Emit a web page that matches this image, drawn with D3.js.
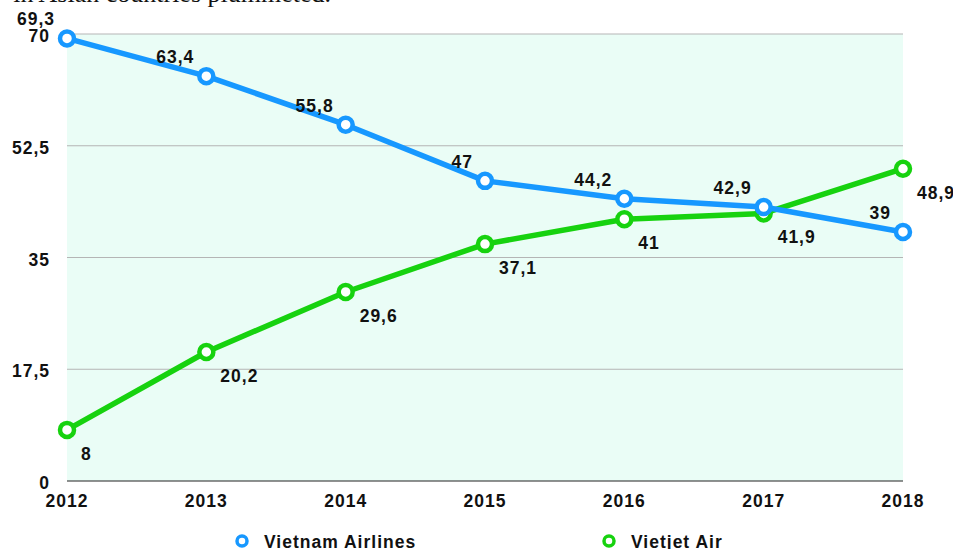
<!DOCTYPE html>
<html>
<head>
<meta charset="utf-8">
<script src="https://cdn.jsdelivr.net/npm/d3@7"></script>
<style>
  html, body { margin: 0; padding: 0; background: #fff; }
  svg { display: block; }
  text { font-family: "Liberation Sans", Arial, sans-serif; font-weight: bold; fill: #111; }
</style>
</head>
<body>
<svg id="chart" width="953" height="549"></svg>
<script>
const years   = [2012, 2013, 2014, 2015, 2016, 2017, 2018];
const vna     = [69.3, 63.4, 55.8, 47, 44.2, 42.9, 39];
const vietjet = [8, 20.2, 29.6, 37.1, 41, 41.9, 48.9];
const yTicks  = [0, 17.5, 35, 52.5, 70];
const names   = ['Vietnam Airlines', 'Vietjet Air'];

const W = 953, H = 549;
const m = { l: 67, r: 50, t: 34, b: 68 };
const BLUE = '#1798ff', GREEN = '#17d20f';
const FS = '17.5px', LS = '1px';
const fmt = v => String(v).replace('.', ',');

const svg = d3.select('#chart');

// cut-off caption from the page above
svg.append('text').attr('x', 331).attr('y', 2).attr('text-anchor', 'end')
  .style('font-family', '"Liberation Serif", "Times New Roman", serif')
  .style('font-weight', 'normal').style('font-size', '26px')
  .text('in Asian countries plummeted.');

const x = d3.scalePoint().domain(years).range([m.l, W - m.r]);
const y = d3.scaleLinear().domain([0, 70]).range([H - m.b, m.t]);

svg.append('rect').attr('x', m.l).attr('y', m.t)
  .attr('width', W - m.r - m.l).attr('height', H - m.b - m.t)
  .attr('fill', '#eafdf6');

// gridlines
svg.append('g').selectAll('line').data(yTicks.filter(d => d > 0)).join('line')
  .attr('x1', m.l).attr('x2', W - m.r)
  .attr('y1', d => y(d)).attr('y2', d => y(d))
  .attr('stroke', '#b5b5b5').attr('stroke-width', 1);

svg.append('line').attr('x1', m.l).attr('x2', W - m.r)
  .attr('y1', y(0)).attr('y2', y(0)).attr('stroke', '#222').attr('stroke-width', 1.2);

const txt = sel => sel.style('font-size', FS).style('letter-spacing', LS);

// y labels
svg.append('g').selectAll('text').data(yTicks).join('text')
  .attr('x', 50).attr('y', d => y(d) + 8).attr('text-anchor', 'end')
  .call(txt).text(fmt);

// x labels
svg.append('g').selectAll('text').data(years).join('text')
  .attr('x', d => x(d)).attr('y', H - m.b + 26).attr('text-anchor', 'middle')
  .call(txt).text(d => d);

const line = d3.line().x((d, i) => x(years[i])).y(d => y(d));

function series(vals, color, above) {
  const g = svg.append('g');
  g.append('path').datum(vals).attr('d', line)
    .attr('fill', 'none').attr('stroke', color).attr('stroke-width', 5.5)
    .attr('stroke-linejoin', 'round');
  g.selectAll('circle').data(vals).join('circle')
    .attr('cx', (d, i) => x(years[i])).attr('cy', d => y(d)).attr('r', 7)
    .attr('fill', '#fff').attr('stroke', color).attr('stroke-width', 4.5);
  g.selectAll('text').data(vals).join('text')
    .attr('x', (d, i) => x(years[i]) + (above ? -12 : 14))
    .attr('y', d => y(d) + (above ? -13 : 30))
    .attr('text-anchor', above ? 'end' : 'start')
    .call(txt).text(fmt);
}

series(vietjet, GREEN, false);
series(vna, BLUE, true);

// legend
const leg = [{ n: names[0], c: BLUE, x: 242 }, { n: names[1], c: GREEN, x: 609 }];
const lg = svg.append('g').selectAll('g').data(leg).join('g')
  .attr('transform', d => `translate(${d.x},${541})`);
lg.append('circle').attr('r', 5).attr('fill', '#fff')
  .attr('stroke', d => d.c).attr('stroke-width', 3.5);
lg.append('text').attr('x', 22).attr('y', 7).call(txt).text(d => d.n);
</script>
</body>
</html>
